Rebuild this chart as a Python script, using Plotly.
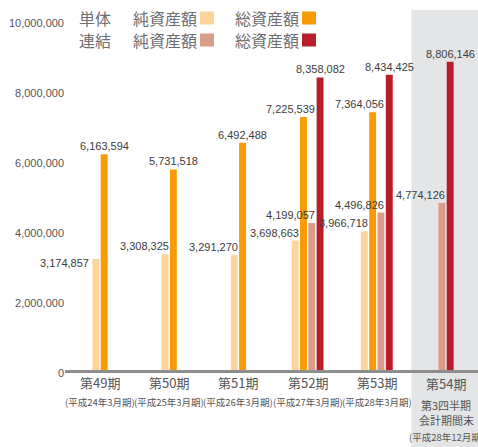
import plotly.graph_objects as go

# ---------------- data ----------------
categories = ["第49期", "第50期", "第51期", "第52期", "第53期", "第54期"]
category_sublabels = [
    ["(平成24年3月期)"],
    ["(平成25年3月期)"],
    ["(平成26年3月期)"],
    ["(平成27年3月期)"],
    ["(平成28年3月期)"],
    ["第3四半期", "会計期間末", "(平成28年12月期)"],
]
single_net_assets = [3174857, 3308325, 3291270, 3698663, 3966718, None]
single_total_assets = [6163594, 5731518, 6492488, 7225539, 7364056, None]
consol_net_assets = [None, None, None, 4199057, 4496826, 4774126]
consol_total_assets = [None, None, None, 8358082, 8434425, 8806146]

y_tick_values = [0, 2000000, 4000000, 6000000, 8000000, 10000000]
y_tick_labels = ["0", "2,000,000", "4,000,000", "6,000,000", "8,000,000", "10,000,000"]

legend_groups = ["単体", "連結"]
legend_items = ["純資産額", "総資産額"]
title_text = "■純資産額・総資産額の推移"

# ---------------- style ----------------
W, H = 478, 447
ML, MR, MT, MB = 65, 0, 20, 77
PW, PH = W - ML - MR, H - MT - MB
X_RANGE = [-0.506, 5.462]
BAR_W = 0.1
STEP = 0.12
NUM_FONT = "Liberation Sans, Arial, sans-serif"
NUM_SIZE = 11
CJK_FONT = "Noto Sans CJK JP, sans-serif"
TXT = "#3c3c3c"

series = [
    dict(name="単体 純資産額", values=single_net_assets, color="#fdd49b", label="right_edge"),
    dict(name="単体 総資産額", values=single_total_assets, color="#f89b06", label="orange"),
    dict(name="連結 純資産額", values=consol_net_assets, color="#dc9c8a", label="right_edge"),
    dict(name="連結 総資産額", values=consol_total_assets, color="#b71e2a", label="center"),
]
label_exceptions = {("単体 純資産額", 0): "left_side"}


def fmt(v):
    return f"{v:,}"


def px_x(p):
    return (p - ML) / PW


def px_y(p):
    return (H - MB - p) / PH


# compute per-category offsets for the bars that exist there
present = [[k for k, s in enumerate(series) if s["values"][i] is not None]
           for i in range(len(categories))]
center_off = {}
for i, ks in enumerate(present):
    n = len(ks)
    for j, k in enumerate(ks):
        center_off[(k, i)] = (j - (n - 1) / 2) * STEP

fig = go.Figure()
annotations = []
for k, s in enumerate(series):
    offs = [center_off.get((k, i), 0) - BAR_W / 2 for i in range(len(categories))]
    fig.add_trace(go.Bar(
        x=categories, y=s["values"], name=s["name"],
        marker=dict(color=s["color"], line=dict(width=0)),
        width=BAR_W, offset=offs, showlegend=False, hoverinfo="x+y",
    ))
    for i, v in enumerate(s["values"]):
        if v is None:
            continue
        c = i + center_off[(k, i)]
        rule = label_exceptions.get((s["name"], i), s["label"])
        n = len(present[i])
        a = dict(y=v, xref="x", yref="y", text=fmt(v), showarrow=False,
                 font=dict(family=NUM_FONT, size=NUM_SIZE, color=TXT),
                 yanchor="bottom", yshift=0)
        if rule == "orange":
            rule = "center" if n == 2 else "right_next"
        if rule == "center":
            a.update(x=c, xanchor="center")
        elif rule == "right_edge":
            a.update(x=c + BAR_W / 2, xanchor="right", xshift=2)
        elif rule == "right_next":
            a.update(x=c + BAR_W / 2 + STEP, xanchor="right", xshift=2)
        elif rule == "left_side":
            a.update(x=c - BAR_W / 2, xanchor="right", xshift=-1,
                     yanchor="middle", yshift=-4)
        annotations.append(a)

# category labels under the axis
for i, cat in enumerate(categories):
    lines = [(cat, 13)]
    subs = category_sublabels[i]
    if len(subs) == 1:
        lines.append((subs[0], 9.5))
        shifts = [-12, -32]
    else:
        lines += [(subs[0], 11), (subs[1], 11), (subs[2], 9.5)]
        shifts = [-13, -35, -50, -67]
    for (t, fs), sh in zip(lines, shifts):
        annotations.append(dict(
            x=i, y=0, xref="x", yref="y", text=t, showarrow=False,
            xanchor="center", yanchor="middle", yshift=sh,
            font=dict(family=CJK_FONT, size=fs, color="#555555")))

# manual legend
shapes = []
legend_colors = [[series[0]["color"], series[1]["color"]],
                 [series[2]["color"], series[3]["color"]]]
for r, grp in enumerate(legend_groups):
    yc = 18 + r * 22
    annotations.append(dict(x=px_x(95), y=px_y(yc), xref="paper", yref="paper",
                            text=grp, showarrow=False, xanchor="center", yanchor="middle",
                            font=dict(family=CJK_FONT, size=16, color="#6e6e6e")))
    for c, item in enumerate(legend_items):
        sx = 200 + c * 102
        annotations.append(dict(x=px_x(sx - 1), y=px_y(yc), xref="paper", yref="paper",
                                text=item, showarrow=False, xanchor="right", yanchor="middle",
                                font=dict(family=CJK_FONT, size=16, color="#6e6e6e")))
        shapes.append(dict(type="rect", xref="paper", yref="paper",
                           x0=px_x(sx), x1=px_x(sx + 14), y0=px_y(yc + 6.5), y1=px_y(yc - 6.5),
                           fillcolor=legend_colors[r][c], line=dict(width=0), layer="above"))

# partially visible title at the very top
annotations.append(dict(x=px_x(0), y=px_y(4), xref="paper", yref="paper", text=title_text,
                        showarrow=False, xanchor="left", yanchor="bottom",
                        font=dict(family=CJK_FONT, size=16, color="#444444")))

# grey band behind the latest period
shapes.append(dict(type="rect", xref="x", yref="paper", x0=4.5, x1=5.5,
                   y0=px_y(H + 5), y1=px_y(10), fillcolor="#e3e5e6",
                   line=dict(width=0), layer="below"))

fig.update_layout(
    width=W, height=H,
    margin=dict(l=ML, r=MR, t=MT, b=MB, pad=0),
    paper_bgcolor="white", plot_bgcolor="rgba(0,0,0,0)",
    barmode="overlay",
    annotations=annotations, shapes=shapes,
    xaxis=dict(type="category", range=X_RANGE, showticklabels=False, ticks="",
               showgrid=False, zeroline=False, showline=True,
               linecolor="#8e8e8e", linewidth=3, fixedrange=True),
    yaxis=dict(range=[0, 10000000], tickvals=y_tick_values, ticktext=y_tick_labels,
               showgrid=False, zeroline=False, showline=False, ticks="",
               ticklabelshift=3,
               tickfont=dict(family=NUM_FONT, size=NUM_SIZE, color="#555555"),
               fixedrange=True),
)

fig.write_html("out.html", config={"displayModeBar": False},
               post_script="document.body.style.margin='0';")
